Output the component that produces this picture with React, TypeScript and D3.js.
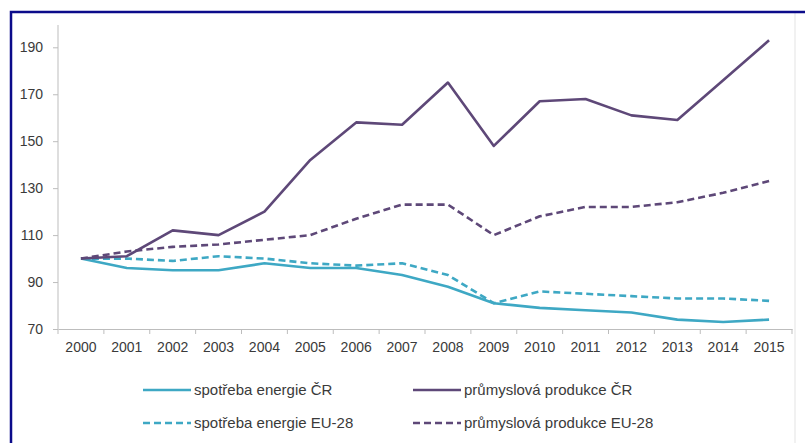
import React, { useEffect, useRef } from "react";
import * as d3 from "d3";

const years = ["2000", "2001", "2002", "2003", "2004", "2005", "2006", "2007", "2008", "2009", "2010", "2011", "2012", "2013", "2014", "2015"];
const energyCZ = [100, 96, 95, 95, 98, 96, 96, 93, 88, 81, 79, 78, 77, 74, 73, 74];
const energyEU = [100, 100, 99, 101, 100, 98, 97, 98, 93, 81, 86, 85, 84, 83, 83, 82];
const industryCZ = [100, 101, 112, 110, 120, 142, 158, 157, 175, 148, 167, 168, 161, 159, 176, 193];
const industryEU = [100, 103, 105, 106, 108, 110, 117, 123, 123, 110, 118, 122, 122, 124, 128, 133];
const yTicks = [70, 90, 110, 130, 150, 170, 190];

const seriesNames = ["spotřeba energie ČR", "průmyslová produkce ČR", "spotřeba energie EU-28", "průmyslová produkce EU-28"];

const CYAN = "#3ea8c4";
const PURPLE = "#5e4878";

const W = 805;
const H = 443;

const App: React.FC = () => {
  const svgRef = useRef<SVGSVGElement | null>(null);

  useEffect(() => {
    const svg = d3.select(svgRef.current);
    svg.selectAll("*").remove();

    const font = "Liberation Sans, Arial, sans-serif";
    const textColor = "#3a3a3a";

    // frame
    svg.append("rect").attr("width", W).attr("height", H).attr("fill", "#fff");
    svg.append("line").attr("x1", 795).attr("x2", 795).attr("y1", 13).attr("y2", H)
      .attr("stroke", "#ececec").attr("stroke-width", 1.5);
    svg.append("path")
      .attr("d", `M11,${H} L11,12 L${W},12`)
      .attr("fill", "none")
      .attr("stroke", "#0b0b8a")
      .attr("stroke-width", 2.5);

    const left = 58, right = 792, top = 25, bottom = 329;

    const x = d3.scaleBand<string>().domain(years).range([left, right]);
    const y = d3.scaleLinear().domain([70, 199.5]).range([bottom, top]);
    const cx = (d: string) => (x(d) as number) + x.bandwidth() / 2;

    const axisColor = "#bdbdbd";

    // y axis
    const yAxis = svg.append("g").attr("transform", `translate(${left},0)`)
      .call(d3.axisLeft(y).tickValues(yTicks).tickSize(5).tickSizeOuter(0));
    yAxis.select(".domain").attr("stroke", axisColor).attr("d", `M0,${top}V${bottom}`);
    yAxis.selectAll(".tick line").attr("stroke", axisColor);
    yAxis.selectAll(".tick text")
      .attr("fill", textColor).attr("font-size", 14).attr("font-family", font).attr("x", -15);

    // x axis
    const xAxis = svg.append("g").attr("transform", `translate(0,${bottom})`)
      .call(d3.axisBottom(x).tickSize(0).tickSizeOuter(0));
    xAxis.select(".domain").attr("stroke", axisColor);
    xAxis.selectAll(".tick text")
      .attr("fill", textColor).attr("font-size", 14).attr("font-family", font).attr("y", 13)
      .attr("dy", "0.71em");
    const edges = years.map((d) => x(d) as number).concat([right]);
    svg.append("g").selectAll("line").data(edges).enter().append("line")
      .attr("x1", (d) => d).attr("x2", (d) => d)
      .attr("y1", bottom).attr("y2", bottom + 5)
      .attr("stroke", axisColor);

    const line = d3.line<number>()
      .x((_, i) => cx(years[i]))
      .y((d) => y(d));

    const series = [
      { values: energyEU, color: CYAN, dash: "7,4" },
      { values: energyCZ, color: CYAN, dash: null },
      { values: industryEU, color: PURPLE, dash: "7,4" },
      { values: industryCZ, color: PURPLE, dash: null },
    ];

    series.forEach((s) => {
      svg.append("path")
        .datum(s.values)
        .attr("d", line)
        .attr("fill", "none")
        .attr("stroke", s.color)
        .attr("stroke-width", 2.6)
        .attr("stroke-linejoin", "round")
        .attr("stroke-dasharray", s.dash);
    });

    // legend
    const legendItems = [
      { name: seriesNames[0], color: CYAN, dash: null, lx: 143, ly: 390 },
      { name: seriesNames[1], color: PURPLE, dash: null, lx: 413, ly: 390 },
      { name: seriesNames[2], color: CYAN, dash: "7,4", lx: 143, ly: 423 },
      { name: seriesNames[3], color: PURPLE, dash: "7,4", lx: 413, ly: 423 },
    ];
    legendItems.forEach((it) => {
      const g = svg.append("g").attr("transform", `translate(${it.lx},${it.ly})`);
      g.append("line").attr("x1", 0).attr("x2", 48).attr("y1", 0).attr("y2", 0)
        .attr("stroke", it.color).attr("stroke-width", 2.6)
        .attr("stroke-dasharray", it.dash);
      g.append("text").attr("x", 51).attr("y", 0).attr("dy", "0.35em")
        .attr("font-size", 15).attr("font-family", font).attr("fill", textColor)
        .text(it.name);
    });
  }, []);

  return (
    <svg
      ref={svgRef}
      width={W}
      height={H}
      style={{ position: "absolute", left: 0, top: 0 }}
    />
  );
};

export default App;
